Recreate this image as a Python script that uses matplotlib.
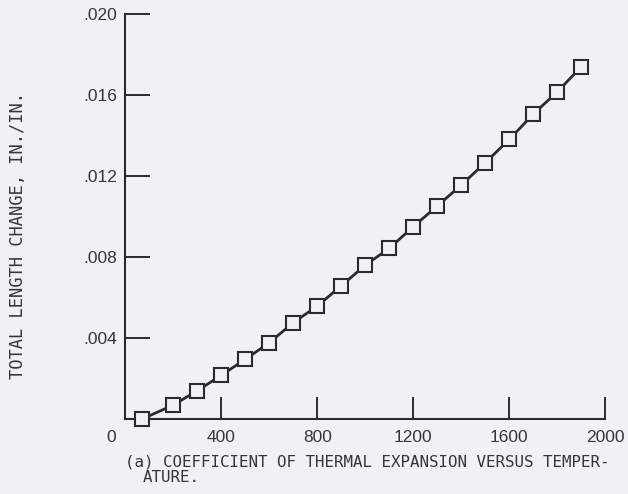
import numpy as np
import matplotlib
matplotlib.use("Agg")
import matplotlib.pyplot as plt

# temperature (deg F) and total length change (in./in.)
temp = [70, 200, 300, 400, 500, 600, 700, 800, 900, 1000,
        1100, 1200, 1300, 1400, 1500, 1600, 1700, 1800, 1900]
dl = [0.0000, 0.00069, 0.00140, 0.00216, 0.00295, 0.00377, 0.00476, 0.00558, 0.00658, 0.00760,
      0.00843, 0.00950, 0.01052, 0.01156, 0.01266, 0.01381, 0.01506, 0.01616, 0.01740]
xticks = [400, 800, 1200, 1600, 2000]
yticks = [0.004, 0.008, 0.012, 0.016, 0.020]
ylabels = [".004", ".008", ".012", ".016", ".020"]

BG = "#f0f1f5"; INK = "#2b2b2b"; TXT = "#363636"

fig = plt.figure(figsize=(6.28, 4.94), dpi=100, facecolor=BG)
ax = fig.add_axes([0.1995, 0.1518, 0.7645, 0.8199], facecolor=BG)

ax.plot(temp, dl, "-", color=INK, lw=2.0, marker="s", ms=9.5,
        mfc=BG, mec=INK, mew=1.5, zorder=3, clip_on=False)

ax.set_xlim(0, 2000); ax.set_ylim(0, 0.020)
for s in ("top", "right"):
    ax.spines[s].set_visible(False)
for s in ("left", "bottom"):
    ax.spines[s].set_color(INK); ax.spines[s].set_linewidth(1.5)

ax.set_xticks(xticks); ax.set_xticklabels([str(v) for v in xticks])
ax.set_yticks(yticks); ax.set_yticklabels(ylabels)
ax.tick_params(axis="x", direction="in", length=16, width=1.4, color=INK, pad=8,
               labelsize=12.5, labelcolor=TXT)
ax.tick_params(axis="y", direction="in", length=18, width=1.4, color=INK, pad=6,
               labelsize=12.5, labelcolor=TXT)
for lab in ax.get_xticklabels() + ax.get_yticklabels():
    lab.set_family("Liberation Sans")

ax.annotate("0", xy=(0, 0), xytext=(-10, -8), textcoords="offset points",
            ha="center", va="top", fontsize=12.5, color=TXT, family="Liberation Sans")

fig.text(0.029, 0.524, "TOTAL LENGTH CHANGE, IN./IN.", rotation=90, ha="center",
         va="center", fontsize=12.3, color=TXT, family="DejaVu Sans Mono")
fig.text(0.199, 0.0648, "(a) COEFFICIENT OF THERMAL EXPANSION VERSUS TEMPER-",
         ha="left", va="center", fontsize=11.4, color=TXT, family="DejaVu Sans Mono")
fig.text(0.228, 0.0324, "ATURE.",
         ha="left", va="center", fontsize=11.4, color=TXT, family="DejaVu Sans Mono")

fig.savefig("out.png", dpi=100, facecolor=BG)
